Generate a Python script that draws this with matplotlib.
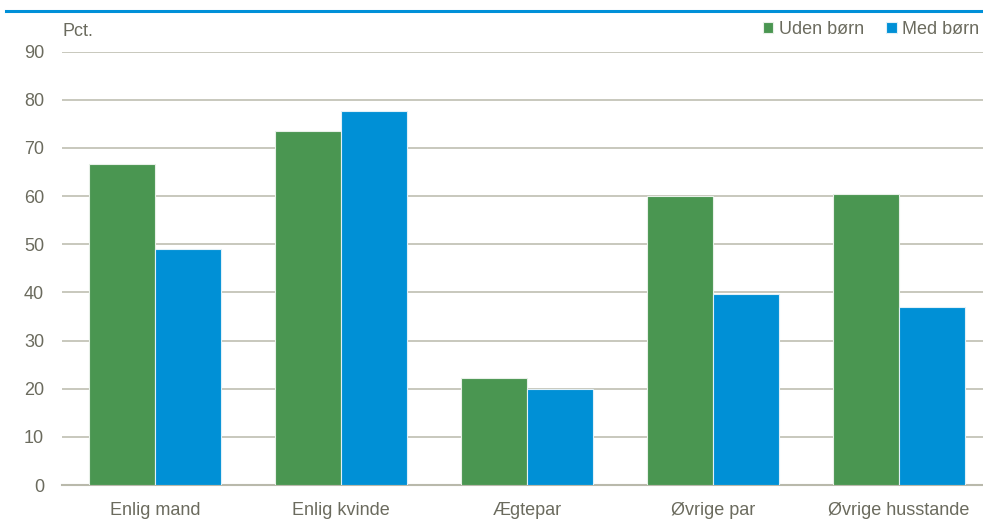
import numpy as np
import matplotlib
matplotlib.use("Agg")
import matplotlib.pyplot as plt
from matplotlib.lines import Line2D

# data
categories = ["Enlig mand", "Enlig kvinde", "Ægtepar", "Øvrige par", "Øvrige husstande"]
uden_boern = [66.7, 73.5, 22.3, 60.0, 60.4]
med_boern = [49.0, 77.7, 20.0, 39.7, 36.9]
series_labels = ["Uden børn", "Med børn"]
y_ticks = [0, 10, 20, 30, 40, 50, 60, 70, 80, 90]

GREEN = "#4a9651"
BLUE = "#0090d6"
TEXT = "#6b6b5e"
GRID = "#b9b9ab"

plt.rcParams["font.family"] = ["Liberation Sans", "DejaVu Sans"]

fig = plt.figure(figsize=(9.83, 5.24), dpi=100)
# plot area runs a little past the right edge, as in the reference
ax = fig.add_axes([0.0631, 0.0744, 0.9461, 0.8273])

x = np.arange(len(categories))
w = 0.355
ax.bar(x - w / 2, uden_boern, w, color=GREEN, edgecolor="#e8f0e8", linewidth=0.8,
       label=series_labels[0], zorder=3)
ax.bar(x + w / 2, med_boern, w, color=BLUE, edgecolor="#e0f0f8", linewidth=0.8,
       label=series_labels[1], zorder=3)

ax.set_xlim(-0.5, len(categories) - 0.5)
ax.set_ylim(0, 90)
ax.set_yticks(y_ticks)
ax.set_xticks(x)
ax.set_xticklabels(categories)
ax.tick_params(axis="both", length=0, labelsize=13, labelcolor=TEXT)
ax.tick_params(axis="y", pad=13)
ax.tick_params(axis="x", pad=12)
ax.yaxis.grid(True, color=GRID, linewidth=1.1, zorder=0)
ax.set_axisbelow(True)
for side in ["top", "right", "left"]:
    ax.spines[side].set_visible(False)
ax.spines["bottom"].set_color(GRID)
ax.spines["bottom"].set_linewidth(1.5)

# unit label above the axis
ax.text(0.0, 1.027, "Pct.", transform=ax.transAxes, ha="left", va="bottom",
        fontsize=13, color=TEXT)

leg = fig.legend(loc="upper right", bbox_to_anchor=(0.996, 1 - 21 / 524), ncol=2,
                 frameon=False, fontsize=13, handlelength=0.6, handleheight=0.6,
                 handletextpad=0.3, columnspacing=1.2, borderaxespad=0, borderpad=0)
for t in leg.get_texts():
    t.set_color(TEXT)

# blue rule at the top of the figure
fig.add_artist(Line2D([0.006, 1.0], [1 - 11 / 524, 1 - 11 / 524], color="#0090d8",
                      linewidth=2.2, transform=fig.transFigure))

fig.savefig("out.png", dpi=100, facecolor="white")
